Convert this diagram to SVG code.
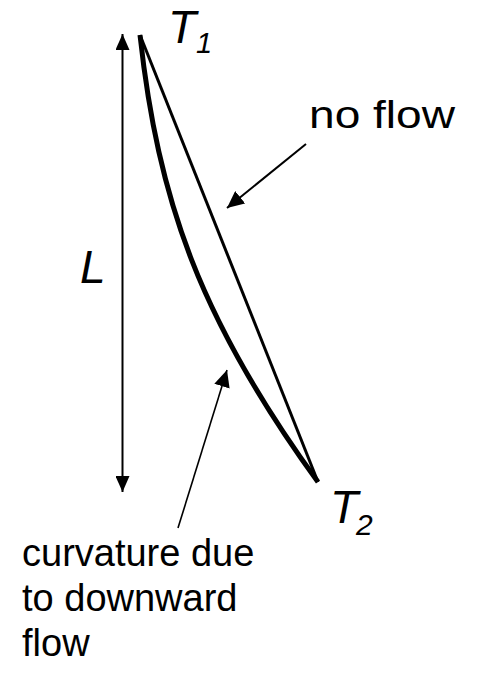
<svg xmlns="http://www.w3.org/2000/svg" width="477" height="673" viewBox="0 0 477 673">
<defs>
<style>
.lbl{font-family:"Liberation Sans",Arial,sans-serif;font-size:38px;fill:#000}
.it{font-family:"Liberation Sans",Arial,sans-serif;font-style:italic;fill:#000}
.ln{fill:none;stroke:#000;stroke-linecap:butt}
</style>
<marker id="ah" markerUnits="userSpaceOnUse" markerWidth="18" markerHeight="14" refX="16" refY="7" orient="auto-start-reverse" viewBox="0 0 18 14">
<path d="M0,0 L16,7 L0,14 Z" fill="#000"/>
</marker>
<marker id="ah2" markerUnits="userSpaceOnUse" markerWidth="18" markerHeight="16" refX="17" refY="8" orient="auto" viewBox="0 0 18 16">
<path d="M0,0 L17,8 L0,16 Z" fill="#000"/>
</marker>
</defs>
<g id="connectors">
<line class="ln" x1="122.5" y1="34" x2="122.5" y2="492" stroke-width="2" marker-start="url(#ah)" marker-end="url(#ah)"/>
<line class="ln" x1="306" y1="144" x2="227" y2="208" stroke-width="2" marker-end="url(#ah2)"/>
<line class="ln" x1="178" y1="528" x2="227" y2="370" stroke-width="1.6" marker-end="url(#ah2)"/>
</g>
<g id="no-flow-line">
<line class="ln" x1="140" y1="35" x2="318" y2="482" stroke-width="3"/>
</g>
<g id="curved-line">
<path class="ln" d="M140,35 C158,200 200,320 318,482" stroke-width="5" stroke-linejoin="round"/>
</g>
<g id="T1">
<text class="it" x="168" y="43" font-size="46">T</text>
<text class="it" x="196" y="53" font-size="29">1</text>
</g>
<g id="L">
<text class="it" x="80" y="283" font-size="46">L</text>
</g>
<g id="T2">
<text class="it" x="330" y="523" font-size="46">T</text>
<text class="it" x="356" y="535" font-size="30">2</text>
</g>
<g id="no-flow">
<text class="lbl" x="309" y="128" textLength="146" lengthAdjust="spacingAndGlyphs">no flow</text>
</g>
<g id="curvature">
<text class="lbl" x="22" y="566">curvature due</text>
<text class="lbl" x="22" y="611">to downward</text>
<text class="lbl" x="22" y="656">flow</text>
</g>
</svg>
